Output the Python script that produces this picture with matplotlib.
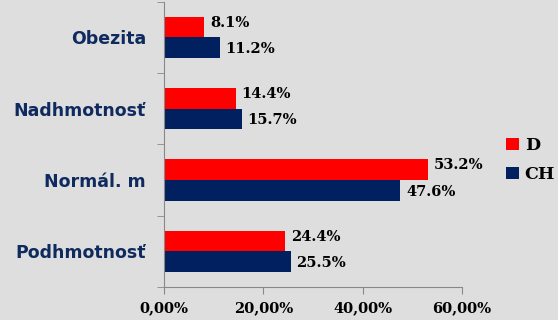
import matplotlib.pyplot as plt
import numpy as np
from matplotlib.ticker import FixedLocator

categories = ['Podhmotnosť', 'Normál. m', 'Nadhmotnosť', 'Obezita']
d_values = [24.4, 53.2, 14.4, 8.1]
ch_values = [25.5, 47.6, 15.7, 11.2]
x_ticks = [0, 20, 40, 60]
x_labels = ['0,00%', '20,00%', '40,00%', '60,00%']

bg = '#dedede'
red = '#ff0000'
navy = '#002060'
serif = 'DejaVu Serif'

fig = plt.figure(figsize=(5.58, 3.2), dpi=100, facecolor=bg)
ax = fig.add_axes([0.294, 0.103, 0.534, 0.892], facecolor=bg)

y = np.arange(len(categories))
h = 0.29
ax.barh(y + h / 2, d_values, height=h, color=red, label='D')
ax.barh(y - h / 2, ch_values, height=h, color=navy, label='CH')

for yi, v in zip(y, d_values):
    ax.annotate(f'{v}%', (v, yi + h / 2 + 0.06), xytext=(4, 0), textcoords='offset points',
                va='center', ha='left', fontsize=10.5, fontweight='bold', family=serif)
for yi, v in zip(y, ch_values):
    ax.annotate(f'{v}%', (v, yi - h / 2 - 0.02), xytext=(4, 0), textcoords='offset points',
                va='center', ha='left', fontsize=10.5, fontweight='bold', family=serif)

ax.set_xlim(0, 60)
ax.set_ylim(-0.5, 3.5)
ax.set_xticks(x_ticks)
ax.set_xticklabels(x_labels, fontsize=10.5, fontweight='bold', family=serif)
ax.set_yticks(y)
ax.set_yticklabels(categories, fontsize=12.5, fontweight='bold', color='#0f2a5e')
ax.yaxis.set_minor_locator(FixedLocator(np.arange(-0.5, 4, 1)))
ax.tick_params(axis='y', which='major', length=0, pad=13)
ax.tick_params(axis='y', which='minor', length=5, color='#888888')
ax.tick_params(axis='x', length=5, color='#888888', pad=5)

for s in ['top', 'right']:
    ax.spines[s].set_visible(False)
for s in ['left', 'bottom']:
    ax.spines[s].set_color('#888888')

fig.legend(loc='center left', bbox_to_anchor=(0.906, 0.5), frameon=False,
           borderpad=0, borderaxespad=0,
           prop={'family': serif, 'weight': 'bold', 'size': 12.5},
           handlelength=0.75, handleheight=0.75, handletextpad=0.35, labelspacing=0.7)

fig.savefig('out.png', dpi=100, facecolor=bg)
